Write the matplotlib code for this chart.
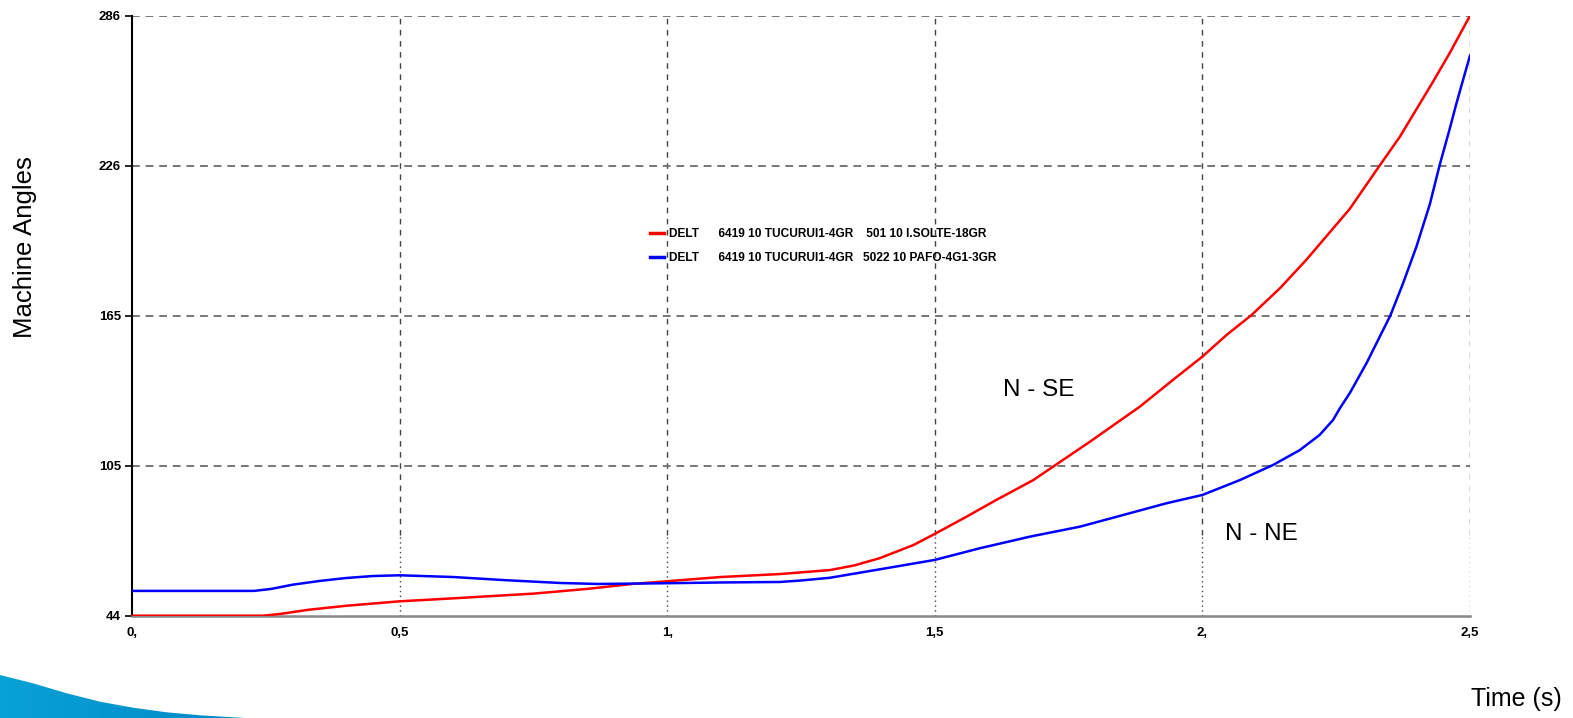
import matplotlib
matplotlib.use("Agg")
import matplotlib.pyplot as plt
import numpy as np
from matplotlib.patches import Polygon
from matplotlib.lines import Line2D
from matplotlib.colors import LinearSegmentedColormap

plt.rcParams['font.family'] = ['Liberation Sans', 'DejaVu Sans']

# ---- data ----
t_red = [0, 0.245, 0.28, 0.33, 0.4, 0.5, 0.6, 0.75, 0.85, 0.935, 1.0, 1.1, 1.2106, 1.304,
         1.35, 1.397, 1.46, 1.5, 1.559, 1.615, 1.684, 1.79, 1.883, 1.945, 2.0, 2.045, 2.092,
         2.145, 2.194, 2.275, 2.331, 2.369, 2.431, 2.462, 2.5]
red = [44, 44, 44.8, 46.4, 48.0, 49.8, 51.0, 52.9, 54.8, 56.8, 57.9, 59.6, 60.8, 62.4,
       64.3, 67.2, 72.5, 77.0, 83.9, 90.7, 98.7, 114.2, 128.3, 139.1, 148.5, 157.2, 165.3,
       176.1, 187.5, 208.0, 225.5, 237.2, 259.4, 270.9, 286.0]

t_blue = [0, 0.228, 0.26, 0.3, 0.35, 0.4, 0.45, 0.5, 0.6, 0.7, 0.8, 0.87, 1.0, 1.1,
          1.2106, 1.25, 1.304, 1.397, 1.5, 1.584, 1.678, 1.771, 1.85, 1.932, 2.0, 2.07, 2.132,
          2.182, 2.219, 2.244, 2.257, 2.276, 2.307, 2.351, 2.375, 2.4, 2.425, 2.443,
          2.462, 2.474, 2.487, 2.5]
blue = [54.0, 54.0, 54.8, 56.5, 58.0, 59.2, 60.0, 60.3, 59.6, 58.3, 57.2, 56.8, 57.1, 57.4,
        57.6, 58.2, 59.3, 62.7, 66.5, 71.2, 75.9, 79.9, 84.5, 89.3, 92.7, 98.7, 104.8,
        110.8, 116.9, 122.9, 127.7, 134.0, 146.0, 165.0, 178.1, 192.9, 210.0, 225.5,
        240.3, 250.1, 260.1, 269.9]

x_ticks = [0, 0.5, 1.0, 1.5, 2.0, 2.5]
x_labels = ["0,", "0,5", "1,", "1,5", "2,", "2,5"]
y_ticks = [44, 104.5, 165, 225.5, 286]
y_labels = ["44", "105", "165", "226", "286"]

label_red = "DELT      6419 10 TUCURUI1-4GR    501 10 I.SOLTE-18GR"
label_blue = "DELT      6419 10 TUCURUI1-4GR   5022 10 PAFO-4G1-3GR"
annotations = [("N - SE", 1.695, 135.0), ("N - NE", 2.11, 77.0)]

W, H = 1573, 718
fig = plt.figure(figsize=(W / 100, H / 100), dpi=100)

# decorative swoosh bottom-left (gradient fill clipped to shape)
bg = fig.add_axes([0, 0, 1, 1], zorder=-5)
bg.set_xlim(0, W)
bg.set_ylim(H, 0)
bg.axis('off')
swoosh_px = [(0, 675), (33, 683.3), (66.7, 693.3), (100, 701.7), (133, 707.7),
             (166.7, 712.3), (200, 715.3), (233, 717.3), (253, 718.5), (0, 718.5)]
poly = Polygon(swoosh_px, closed=True, facecolor='none', edgecolor='none')
bg.add_patch(poly)
grad = np.linspace(0, 1, 256).reshape(1, -1)
cmap = LinearSegmentedColormap.from_list('sw', ['#08a2d6', '#0088c6'])
im = bg.imshow(grad, cmap=cmap, extent=(0, 260, 719, 670), aspect='auto')
im.set_clip_path(poly)

ax = fig.add_axes([132 / W, 1 - 615.7 / H, (1470 - 132) / W, 600 / H])
ax.set_xlim(0, 2.5)
ax.set_ylim(44, 286)
ax.patch.set_alpha(0)

# grid
split = 0.135
for xv in x_ticks[1:]:
    ax.axvline(xv, ymin=split, ymax=1, color='#444444', lw=1.0, ls=(0, (4, 4)), zorder=1)
    ax.axvline(xv, ymin=0, ymax=split, color='#444444', lw=1.0, ls=(0, (1, 2.5)), zorder=1)
for yv in y_ticks[1:]:
    ax.axhline(yv, color='#777777', lw=1.4, ls=(0, (4, 3)), zorder=1)

ax.plot(t_red, red, color='#ff0000', lw=1.8, zorder=3)
ax.plot(t_blue, blue, color='#0000ff', lw=1.8, zorder=3)

for s in ['top', 'right']:
    ax.spines[s].set_visible(False)
ax.spines['left'].set_color('black')
ax.spines['left'].set_linewidth(1.5)
ax.spines['bottom'].set_color('#888888')
ax.spines['bottom'].set_linewidth(1.8)

ax.set_xticks(x_ticks)
ax.set_xticklabels(x_labels, fontsize=9.5, fontweight='bold')
ax.set_yticks(y_ticks)
ax.set_yticklabels(y_labels, fontsize=9.5, fontweight='bold')
ax.tick_params(axis='y', length=5, width=1.2, pad=3, color='black')
ax.tick_params(axis='x', length=0, pad=8)

handles = [Line2D([], [], color='#ff0000', lw=2.5), Line2D([], [], color='#0000ff', lw=2.5)]
leg = ax.legend(handles, [label_red, label_blue], loc='center left',
                bbox_to_anchor=(650 / W, 1 - 246 / H), bbox_transform=fig.transFigure,
                frameon=False, borderpad=0, borderaxespad=0, handlelength=1.2,
                handletextpad=0.35, labelspacing=1.0,
                prop={'size': 8.6, 'weight': 'bold'})

for txt, xv, yv in annotations:
    ax.text(xv, yv, txt, fontsize=17.5, ha='center', va='center', color='black')

fig.text(25 / W, 1 - 247 / H, "Machine Angles", rotation=90, fontsize=18.5,
         ha='center', va='center')
fig.text(1516 / W, 1 - 699 / H, "Time (s)", fontsize=18, ha='center', va='center')

fig.savefig("out.png", dpi=100)
